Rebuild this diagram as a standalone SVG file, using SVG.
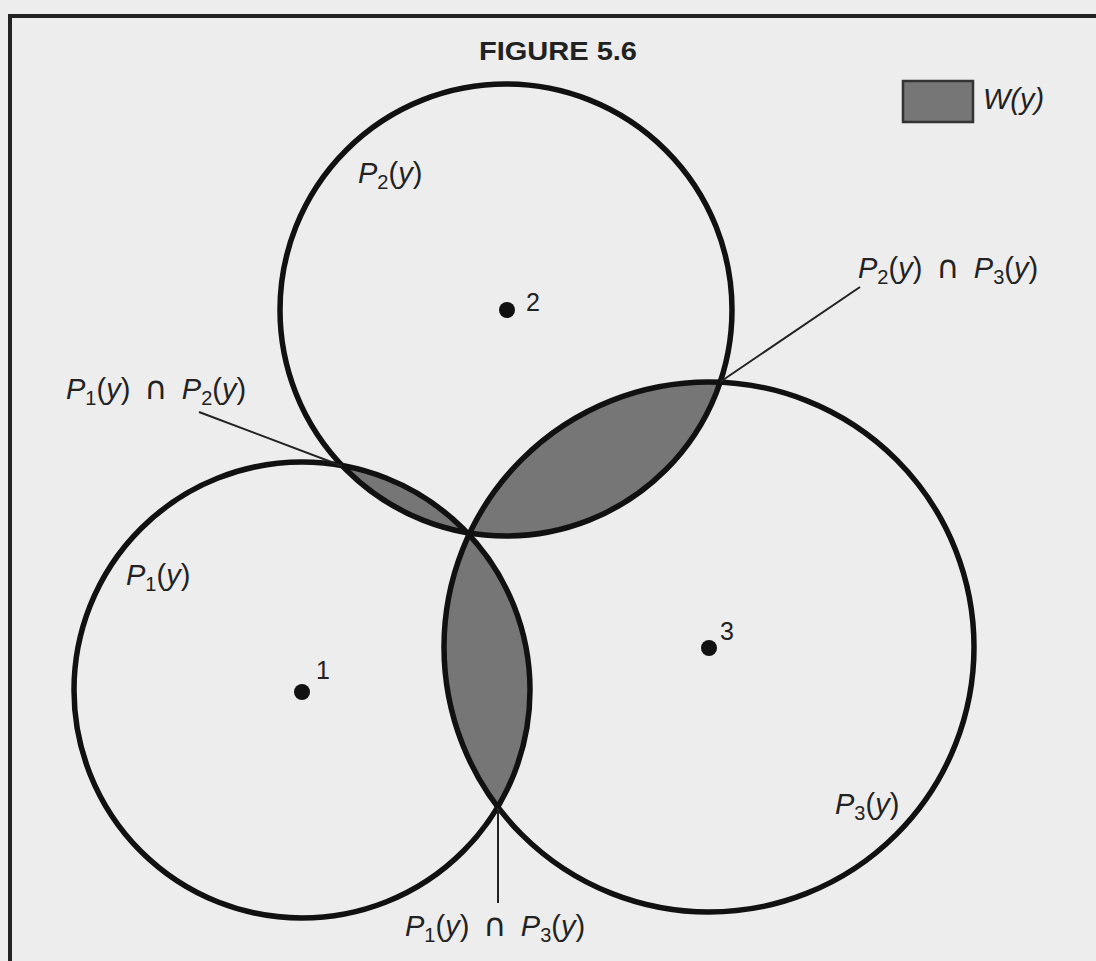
<svg xmlns="http://www.w3.org/2000/svg" width="1096" height="961" viewBox="0 0 1096 961">
<style>
.bg{fill:#ededed}
.ring{fill:none;stroke:#111;stroke-width:5.5}
.lens{fill:#767676;stroke:none}
.dot{fill:#111}
.lbl{font-family:"Liberation Sans",Arial,sans-serif;font-size:29px;fill:#222}
.it{font-style:italic}
.sub{font-size:20px}
.cap{font-family:"DejaVu Sans",sans-serif;font-size:32px}
.num{font-family:"Liberation Sans",Arial,sans-serif;font-size:25px;fill:#222}
.lead{stroke:#222;stroke-width:2;fill:none}
.frame{stroke:#222;stroke-width:4;fill:none}
</style>
<rect class="bg" x="0" y="0" width="1096" height="961"/>
<path class="frame" d="M10 961 V16 H1096"/>
<text id="title" x="558" y="60" text-anchor="middle" font-family="Liberation Sans,Arial,sans-serif" font-weight="bold" font-size="26" fill="#222" textLength="158" lengthAdjust="spacingAndGlyphs">FIGURE 5.6</text>
<g id="legend">
<rect x="903" y="81" width="70" height="41" fill="#767676" stroke="#333" stroke-width="2.5"/>
<text class="lbl it" x="983" y="109">W(y)</text>
</g>
<g id="W-regions">
<path class="lens" d="M468.5 534 A265 265 0 0 1 720.2 382.3 A226 226 0 0 1 468.5 534 Z"/>
<path class="lens" d="M342 465.6 A228 228 0 0 1 468.5 534 A226 226 0 0 1 342 465.6 Z"/>
<path class="lens" d="M468.5 534 A228 228 0 0 1 497.7 807 A265 265 0 0 1 468.5 534 Z"/>
</g>
<g id="P1">
<circle class="ring" cx="302" cy="690" r="228"/>
<circle class="dot" cx="302" cy="692" r="8"/>
<text class="num" x="316" y="679">1</text>
<text class="lbl" x="126" y="585"><tspan class="it">P</tspan><tspan class="sub" dy="6">1</tspan><tspan dy="-6">(</tspan><tspan class="it">y</tspan><tspan>)</tspan></text>
</g>
<g id="P2">
<circle class="ring" cx="506" cy="310" r="226"/>
<circle class="dot" cx="507" cy="310" r="8"/>
<text class="num" x="526" y="311">2</text>
<text class="lbl" x="358" y="183"><tspan class="it">P</tspan><tspan class="sub" dy="6">2</tspan><tspan dy="-6">(</tspan><tspan class="it">y</tspan><tspan>)</tspan></text>
</g>
<g id="P3">
<circle class="ring" cx="709" cy="647" r="265"/>
<circle class="dot" cx="709" cy="648" r="8"/>
<text class="num" x="720" y="640">3</text>
<text class="lbl" x="835" y="814"><tspan class="it">P</tspan><tspan class="sub" dy="6">3</tspan><tspan dy="-6">(</tspan><tspan class="it">y</tspan><tspan>)</tspan></text>
</g>
<g id="connectors">
<line class="lead" x1="199" y1="412" x2="342" y2="466"/>
<line class="lead" x1="860" y1="287" x2="720" y2="382"/>
<line class="lead" x1="498" y1="808" x2="498" y2="903"/>
</g>
<g id="intersection-labels">
<text class="lbl" x="66" y="399"><tspan class="it">P</tspan><tspan class="sub" dy="6">1</tspan><tspan dy="-6">(</tspan><tspan class="it">y</tspan><tspan>) </tspan><tspan class="cap" dx="6">∩</tspan><tspan dx="6"> </tspan><tspan class="it">P</tspan><tspan class="sub" dy="6">2</tspan><tspan dy="-6">(</tspan><tspan class="it">y</tspan><tspan>)</tspan></text>
<text class="lbl" x="858" y="278"><tspan class="it">P</tspan><tspan class="sub" dy="6">2</tspan><tspan dy="-6">(</tspan><tspan class="it">y</tspan><tspan>) </tspan><tspan class="cap" dx="6">∩</tspan><tspan dx="6"> </tspan><tspan class="it">P</tspan><tspan class="sub" dy="6">3</tspan><tspan dy="-6">(</tspan><tspan class="it">y</tspan><tspan>)</tspan></text>
<text class="lbl" x="405" y="936"><tspan class="it">P</tspan><tspan class="sub" dy="6">1</tspan><tspan dy="-6">(</tspan><tspan class="it">y</tspan><tspan>) </tspan><tspan class="cap" dx="6">∩</tspan><tspan dx="6"> </tspan><tspan class="it">P</tspan><tspan class="sub" dy="6">3</tspan><tspan dy="-6">(</tspan><tspan class="it">y</tspan><tspan>)</tspan></text>
</g>
</svg>
